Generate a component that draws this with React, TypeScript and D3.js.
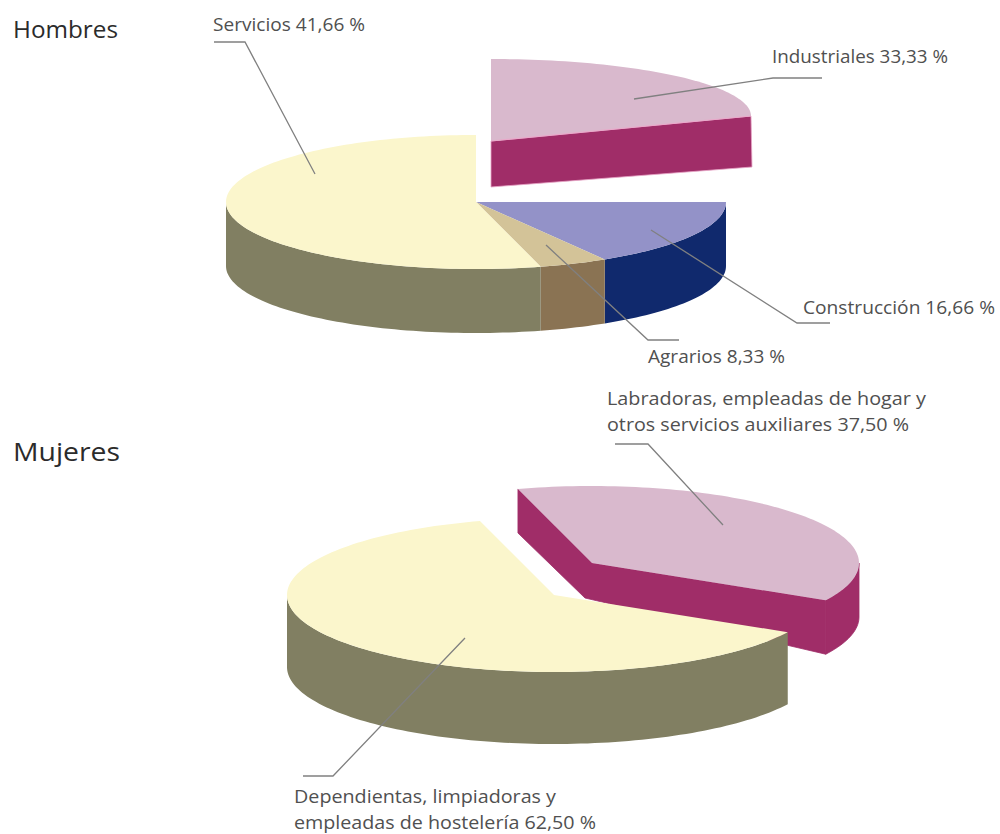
import React from "react";
import * as d3 from "d3";

// Occupational shares, in percent, as printed beside each slice.
const hombresCategories = ["Industriales", "Construcción", "Agrarios", "Servicios"];
const hombresValues = [33.33, 16.66, 8.33, 41.66];
const mujeresCategories = [
  "Labradoras, empleadas de hogar y otros servicios auxiliares",
  "Dependientas, limpiadoras y empleadas de hostelería",
];
const mujeresValues = [37.5, 62.5];

const W = 1000;
const H = 834;
const rad = (deg: number) => (deg * Math.PI) / 180;
const TAU = Math.PI * 2;

type Tone = { top: string; side: string };
const tones: Record<string, Tone> = {
  Industriales: { top: "#d9b9cd", side: "#a02d68" },
  Construcción: { top: "#9392c8", side: "#10296d" },
  Agrarios: { top: "#d3c398", side: "#8a7353" },
  Servicios: { top: "#fbf6cc", side: "#817f62" },
  Labradoras: { top: "#d9b9cd", side: "#a02d68" },
  Dependientas: { top: "#fbf6cc", side: "#817f62" },
};

type Disc = { cx: number; cy: number; rx: number; ry: number };

// Point on a disc rim; angle is clockwise from twelve o'clock.
const rim = (d: Disc, a: number): [number, number] => [
  d.cx + d.rx * Math.sin(a),
  d.cy - d.ry * Math.cos(a),
];

const line = d3.line<[number, number]>();

const arcPoints = (d: Disc, a0: number, a1: number) => {
  const n = Math.max(2, Math.ceil(Math.abs(a1 - a0) / rad(1.5)));
  return d3.range(n + 1).map((i) => rim(d, a0 + ((a1 - a0) * i) / n));
};

const topFace = (d: Disc, a0: number, a1: number, apex: [number, number] = [d.cx, d.cy]) =>
  (line([apex, ...arcPoints(d, a0, a1)]) ?? "") + "Z";

// Visible outer wall: only the part of the rim facing the viewer (90° to 270°).
const rimWall = (d: Disc, a0: number, a1: number, depth: number) => {
  const from = Math.max(a0, rad(90));
  const to = Math.min(a1, rad(270));
  if (to <= from) return "";
  const upper = arcPoints(d, from, to);
  const lower = upper.map(([x, y]) => [x, y + depth] as [number, number]).reverse();
  return (line([...upper, ...lower]) ?? "") + "Z";
};

// The upper pie is drawn foreshortened unevenly: slice boundaries from the
// values pass through this mapping before landing on the ellipse.
const hombresView = d3
  .scaleLinear()
  .domain([...d3.cumsum([0, ...hombresValues])].map((v) => (v / d3.sum(hombresValues)) * TAU))
  .range([0, 90, 149, 165, 360].map(rad));

const hombresArcs = d3.pie<number>().sort(null).startAngle(0).endAngle(TAU)(hombresValues);
const mujeresStart = rad(-16.1);
const mujeresArcs = d3
  .pie<number>()
  .sort(null)
  .startAngle(mujeresStart)
  .endAngle(mujeresStart + TAU)(mujeresValues);

const hombresDisc: Disc = { cx: 476, cy: 202, rx: 250, ry: 67 };
const hombresDepth = 64;
// Pulled-out Industriales slice sits on its own flatter ellipse.
const industrialDisc: Disc = { cx: 491, cy: 116, rx: 260, ry: 57 };
const industrialApex: [number, number] = [491, 141];

const mujeresDisc: Disc = { cx: 554, cy: 595, rx: 267, ry: 77 };
const mujeresDepth = 72;
const labradorasDisc: Disc = { ...mujeresDisc, cx: 592, cy: 563 };

type Label = { lines: { text: string; x: number; y: number; w: number }[]; leader: [number, number][] };
const fmt = (v: number) => v.toFixed(2).replace(".", ",") + " %";

const labels: Label[] = [
  {
    lines: [{ text: `${hombresCategories[3]} ${fmt(hombresValues[3])}`, x: 213, y: 31, w: 152 }],
    leader: [[214, 42], [245, 42], [315, 174]],
  },
  {
    lines: [{ text: `${hombresCategories[0]} ${fmt(hombresValues[0])}`, x: 772, y: 63, w: 176 }],
    leader: [[634, 99], [773, 78], [822, 78]],
  },
  {
    lines: [{ text: `${hombresCategories[1]} ${fmt(hombresValues[1])}`, x: 803, y: 314, w: 192 }],
    leader: [[651, 230], [797, 323], [830, 323]],
  },
  {
    lines: [{ text: `${hombresCategories[2]} ${fmt(hombresValues[2])}`, x: 648, y: 363, w: 137 }],
    leader: [[546, 245], [648, 340], [679, 340]],
  },
  {
    lines: [
      { text: "Labradoras, empleadas de hogar y", x: 607, y: 405, w: 319 },
      { text: `otros servicios auxiliares ${fmt(mujeresValues[0])}`, x: 607, y: 431, w: 302 },
    ],
    leader: [[615, 444], [648, 444], [723, 525]],
  },
  {
    lines: [
      { text: "Dependientas, limpiadoras y", x: 294, y: 803, w: 262 },
      { text: `empleadas de hostelería ${fmt(mujeresValues[1])}`, x: 294, y: 829, w: 302 },
    ],
    leader: [[303, 776], [333, 776], [465, 638]],
  },
];

const labelFont = "'Open Sans', sans-serif";

export default function App() {
  const ind = hombresArcs[0];
  const indA0 = hombresView(ind.startAngle);
  const indA1 = hombresView(ind.endAngle);
  const indTip = rim(industrialDisc, indA1);
  const indWall =
    (line([
      industrialApex,
      indTip,
      [indTip[0] + 1, indTip[1] + 51],
      [industrialApex[0], industrialApex[1] + 46],
    ]) ?? "") + "Z";

  const lab = mujeresArcs[0];
  const labCorner = rim(labradorasDisc, lab.startAngle);
  const labApex: [number, number] = [labradorasDisc.cx, labradorasDisc.cy];
  const labTip = rim(labradorasDisc, lab.endAngle);
  const labFoot: [number, number] = [labApex[0] - 7, labApex[1] + 35];
  const labWall =
    (line([
      labCorner,
      labApex,
      labTip,
      [labTip[0], labTip[1] + 54],
      labFoot,
      [labCorner[0], labCorner[1] + 44],
    ]) ?? "") + "Z";

  return (
    <svg
      width={W}
      height={H}
      viewBox={`0 0 ${W} ${H}`}
      style={{ position: "absolute", left: 0, top: 0, display: "block", background: "#fff" }}
    >
      <text x={13} y={38} fontFamily={labelFont} fontSize={24} fill="#2b2b2b" textLength={105} lengthAdjust="spacingAndGlyphs">Hombres</text>
      <text x={13} y={461} fontFamily={labelFont} fontSize={26} fill="#2b2b2b" textLength={107} lengthAdjust="spacingAndGlyphs">Mujeres</text>

      {/* Hombres: whole disc slices */}
      {hombresArcs.slice(1).map((arc, i) => {
        const name = hombresCategories[i + 1];
        const a0 = hombresView(arc.startAngle);
        const a1 = hombresView(arc.endAngle);
        return (
          <g key={name}>
            <path d={rimWall(hombresDisc, a0, a1, hombresDepth)} fill={tones[name].side} />
            <path d={topFace(hombresDisc, a0, a1)} fill={tones[name].top} />
          </g>
        );
      })}

      {/* Hombres: pulled-out slice */}
      <path d={indWall} fill={tones.Industriales.side} stroke="#e7a6c7" strokeWidth={0.8} />
      <path
        d={topFace(industrialDisc, indA0, indA1, industrialApex)}
        fill={tones.Industriales.top}
      />
      <line
        x1={industrialApex[0]}
        y1={industrialApex[1]}
        x2={indTip[0]}
        y2={indTip[1]}
        stroke="#e9a9ca"
        strokeWidth={1.2}
      />

      {/* Mujeres: pulled-out slice sits behind the larger one */}
      <path d={labWall} fill={tones.Labradoras.side} stroke={tones.Labradoras.side} strokeWidth={0.8} />
      <path
        d={rimWall(labradorasDisc, lab.startAngle, lab.endAngle, 54)}
        fill={tones.Labradoras.side}
        stroke={tones.Labradoras.side}
        strokeWidth={0.8}
      />
      <path d={topFace(labradorasDisc, lab.startAngle, lab.endAngle)} fill={tones.Labradoras.top} />

      <path
        d={rimWall(mujeresDisc, mujeresArcs[1].startAngle, mujeresArcs[1].endAngle, mujeresDepth)}
        fill={tones.Dependientas.side}
      />
      <path
        d={topFace(mujeresDisc, mujeresArcs[1].startAngle, mujeresArcs[1].endAngle)}
        fill={tones.Dependientas.top}
      />

      {/* Callouts */}
      {labels.map((l, i) => (
        <g key={i}>
          <path d={line(l.leader) ?? ""} fill="none" stroke="#808080" strokeWidth={1.3} />
          {l.lines.map((t) => (
            <text
              key={t.text}
              x={t.x}
              y={t.y}
              fontFamily={labelFont}
              fontSize={17.5}
              fill="#505050"
              textLength={t.w}
              lengthAdjust="spacingAndGlyphs"
            >
              {t.text}
            </text>
          ))}
        </g>
      ))}
    </svg>
  );
}
